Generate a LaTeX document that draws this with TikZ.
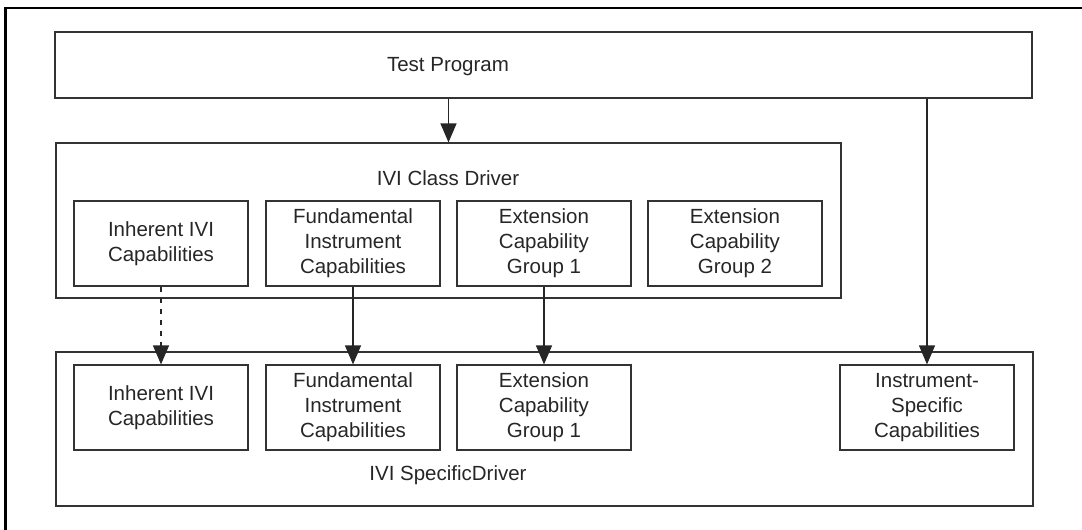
\documentclass[tikz,border=0pt]{standalone}
\usepackage{fontspec}
\setmainfont{Liberation Sans}
\usetikzlibrary{arrows.meta, positioning}

\tikzset{
  capbox/.style={draw=black!80, line width=1.2pt, minimum width=174pt, minimum height=85pt,
    align=center, inner sep=0pt, font=\fontsize{20.5}{25}\selectfont, text=black!85},
  bigbox/.style={draw=black!80, line width=1.2pt, inner sep=0pt},
  boxlabel/.style={font=\fontsize{20.5}{25}\selectfont, text=black!85, inner sep=0pt},
  arr/.style={draw=black!85, line width=1.2pt, -{Triangle[length=19pt,width=16pt]}}
}

\begin{document}
\begin{tikzpicture}[x=1pt, y=-1pt]
  \useasboundingbox (0,0) rectangle (1082,530);
  % outer frame
  \draw[line width=2.5pt] (5.7,530) -- (5.7,7.8) -- (1082,7.8);

  % test program
  \node[bigbox, minimum width=977pt, minimum height=66pt] (tp) at (543.5,65) {};
  \node[boxlabel] (tplabel) at (448,67) {Test Program};

  % class driver
  \node[bigbox, minimum width=785pt, minimum height=155pt] (cd) at (448.5,220.5) {};
  \node[boxlabel] (cdlabel) at (448,178) {IVI Class Driver};
  \node[capbox] (ci1) at (161,243.5) {Inherent IVI\\Capabilities};
  \node[capbox] (ci2) at (353,243.5) {Fundamental\\Instrument\\Capabilities};
  \node[capbox] (ci3) at (544,243.5) {Extension\\Capability\\Group 1};
  \node[capbox] (ci4) at (735,243.5) {Extension\\Capability\\Group 2};

  % specific driver
  \node[bigbox, minimum width=977pt, minimum height=154pt] (sd) at (544.5,429) {};
  \node[boxlabel] (sdlabel) at (448,475) {IVI SpecificDriver};
  \node[capbox] (si1) at (161,407.5) {Inherent IVI\\Capabilities};
  \node[capbox] (si2) at (353,407.5) {Fundamental\\Instrument\\Capabilities};
  \node[capbox] (si3) at (544,407.5) {Extension\\Capability\\Group 1};
  \node[capbox] (isc) at (927,407.5) {Instrument-\\Specific\\Capabilities};

  \draw[arr] (cd.north |- tp.south) -- (cd.north);
  \draw[arr] (isc.north |- tp.south) -- (isc.north);
  \draw[arr, dash pattern=on 5pt off 6pt] (ci1.south) -- (si1.north);
  \draw[arr] (ci2.south) -- (si2.north);
  \draw[arr] (ci3.south) -- (si3.north);
\end{tikzpicture}
\end{document}
